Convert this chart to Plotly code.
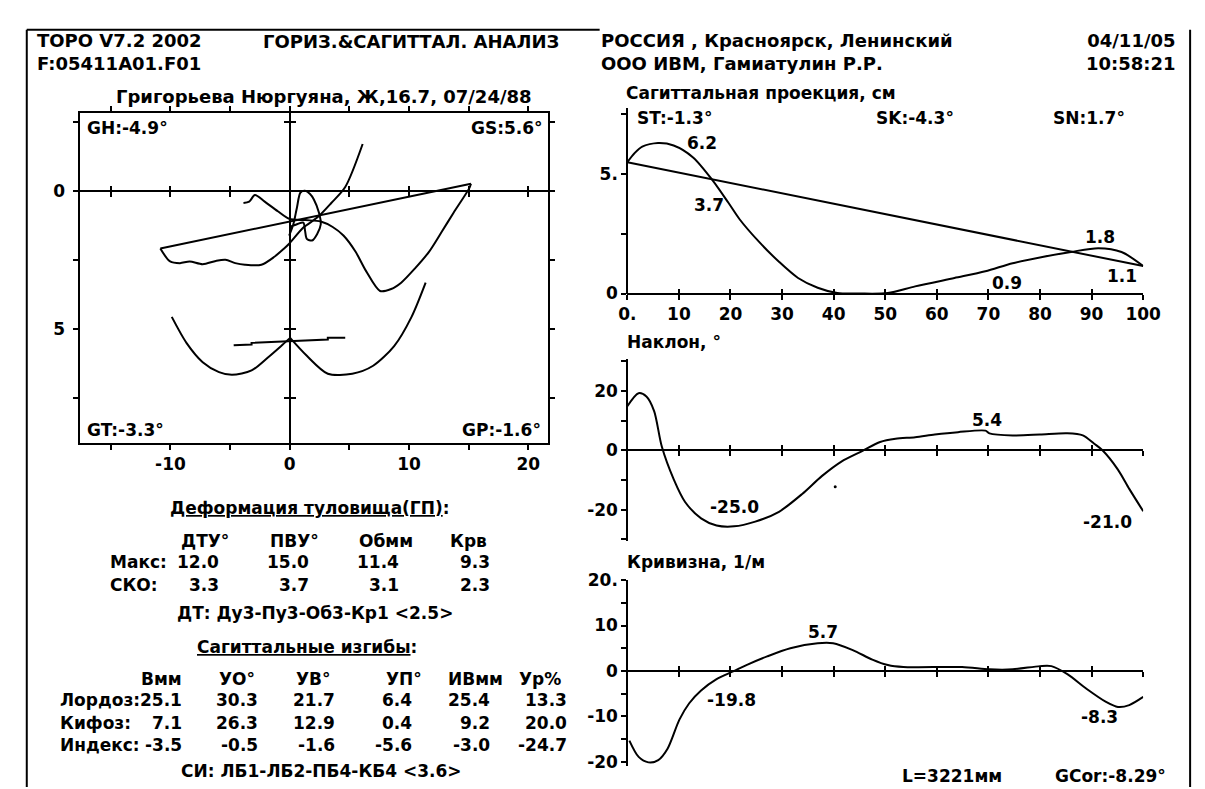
import plotly.graph_objects as go

FONT = "DejaVu Sans"
W, H = 1205, 789
BLK = "black"

# ---------------- data: horizontal projection (left chart) ----------------
hp_line_x = [-10.85, 15.19]
hp_line_y = [2.08, -0.27]

hp_wave_x = [-10.85, -10.03, -9.2, -8.39, -7.3, -6.2, -5.39, -4.57, -3.75, -2.38, -1.29, -0.47, -0.05, 1.14, 2.30, 3.48, 4.65, 6.11]
hp_wave_y = [2.08, 2.55, 2.61, 2.55, 2.65, 2.53, 2.49, 2.61, 2.67, 2.67, 2.38, 2.08, 1.91, 1.32, 0.96, 0.43, -0.15, -1.71]

hp_curve_x = [-3.88, -3.4, -2.92, -2.1, -1.0, -0.05, 1.3, 2.6, 3.6, 4.5, 5.52, 6.4, 7.57, 8.5, 9.34, 10.5, 11.67, 12.7, 13.72, 15.04, 15.19]
hp_curve_y = [0.43, 0.38, 0.14, 0.38, 0.73, 1.0, 1.05, 1.1, 1.3, 1.61, 2.2, 2.9, 3.62, 3.55, 3.32, 2.8, 2.2, 1.5, 0.79, -0.1, -0.27]

hp_loop_x = [-0.05, 0.3, 0.6, 0.9, 1.28, 1.7, 2.02, 2.45, 2.6, 2.3, 1.87, 1.43, 1.28, 1.14, 0.6, 0.0]
hp_loop_y = [1.61, 1.2, 0.6, 0.05, -0.01, 0.1, 0.3, 0.78, 1.2, 1.55, 1.79, 1.73, 1.43, 1.14, 1.2, 1.3]

hp_pelvis_l_x = [-9.89, -8.66, -7.3, -5.93, -4.84, -3.2, -1.83, -0.74, 0.03]
hp_pelvis_l_y = [4.56, 5.5, 6.2, 6.56, 6.66, 6.5, 6.03, 5.62, 5.32]
hp_pelvis_r_x = [0.03, 1.43, 3.19, 5.24, 6.99, 8.75, 10.21, 11.39]
hp_pelvis_r_y = [5.32, 5.97, 6.62, 6.62, 6.33, 5.62, 4.56, 3.32]

hp_bar_x = [-4.7, -3.2, -3.2, 3.19, 3.19, 4.65]
hp_bar_y = [5.59, 5.56, 5.5, 5.38, 5.32, 5.32]

# ---------------- data: sagittal projection ----------------
sp_x = [0, 1.5, 2.9, 5.95, 8.98, 12.75, 16.5, 19.6, 21.8, 25.6, 29.4, 33.1, 36.9, 40.7, 45, 50.5, 55.8, 63.4, 69.4, 74.7, 80.7, 86, 91.3, 95.8, 100]
sp_y = [5.5, 5.9, 6.15, 6.3, 6.2, 5.7, 4.75, 3.8, 3.1, 2.15, 1.33, 0.65, 0.24, 0.02, 0.0, 0.02, 0.3, 0.65, 0.93, 1.27, 1.54, 1.74, 1.9, 1.74, 1.15]
sp_line_x = [0, 100]
sp_line_y = [5.5, 1.15]

# ---------------- data: inclination (Наклон) ----------------
inc_x = [0, 2.18, 3.7, 5.2, 6.7, 9.0, 11.2, 14.3, 17.3, 20.7, 24.8, 29.4, 33.9, 37.7, 41.5, 45.6, 49, 52, 55.8, 59.6, 64.1, 69.4, 70.2, 74.7, 80, 85.3, 88.3, 90.5, 92.1, 95.1, 97.3, 100]
inc_y = [14.8, 19.2, 18.1, 13.2, 1.15, -9.8, -17.4, -22.9, -25.3, -25.6, -24.0, -20.7, -14.7, -8.7, -3.8, -0.2, 2.8, 3.9, 4.4, 5.3, 6.1, 6.6, 5.7, 5.0, 5.3, 5.7, 5.0, 2.2, 0.0, -6.5, -13.0, -20.5]
inc_dot_x = [40.3]
inc_dot_y = [-12.3]

# ---------------- data: curvature (Кривизна) ----------------
cur_x = [0.4, 2.2, 4.1, 6.0, 7.8, 10.1, 12, 14.3, 17.3, 20.5, 23.3, 27.1, 31.6, 36.9, 39.9, 43.7, 47.5, 50.5, 53.5, 64.9, 70.2, 74.7, 80, 82.2, 85.3, 89, 92.8, 95.1, 97.3, 100]
cur_y = [-15.3, -18.9, -20.1, -19.6, -17.1, -10.7, -7.1, -4.3, -1.8, -0.1, 1.4, 3.2, 5.0, 6.1, 6.1, 4.6, 2.5, 1.3, 0.86, 0.86, 0.36, 0.36, 1.07, 1.07, -0.7, -3.9, -6.8, -7.9, -7.5, -5.7]

# ---------------- tables ----------------
deform_title = "Деформация туловища(ГП)"
deform_cols = ["ДТУ°", "ПВУ°", "Обмм", "Крв"]
deform_rows = ["Макс:", "СКО:"]
deform_max = [12.0, 15.0, 11.4, 9.3]
deform_sko = [3.3, 3.7, 3.1, 2.3]
deform_type = "ДТ: Ду3-Пу3-Об3-Кр1 <2.5>"

sag_title = "Сагиттальные изгибы"
sag_cols = ["Вмм", "УО°", "УВ°", "УП°", "ИВмм", "Ур%"]
sag_rows = ["Лордоз:", "Кифоз:", "Индекс:"]
sag_lordoz = [25.1, 30.3, 21.7, 6.4, 25.4, 13.3]
sag_kifoz = [7.1, 26.3, 12.9, 0.4, 9.2, 20.0]
sag_index = [-3.5, -0.5, -1.6, -5.6, -3.0, -24.7]
sag_type = "СИ: ЛБ1-ЛБ2-ПБ4-КБ4 <3.6>"

# tick labels
hp_xticks = [-15, -10, -5, 0, 5, 10, 15, 20]
hp_xtext = ["", "-10", "", "0", "", "10", "", "20"]
hp_yticks = [-2.5, 0, 2.5, 5, 7.5]
hp_ytext = ["", "0", "", "5", ""]
r_xticks = [0, 10, 20, 30, 40, 50, 60, 70, 80, 90, 100]
r_xtext = ["0.", "10", "20", "30", "40", "50", "60", "70", "80", "90", "100"]
sp_yticks = [0, 2.5, 5, 7.5]
sp_ytext = ["0", "", "5.", ""]
inc_yticks = [-30, -20, -10, 0, 10, 20, 30]
inc_ytext = ["", "-20", "", "0", "", "20", ""]
cur_yticks = [-20, -15, -10, -5, 0, 5, 10, 15, 20]
cur_ytext = ["-20", "", "-10", "", "0", "", "10", "", "20."]


def px(x):
    return x / W


def py(y):
    return 1 - y / H


fig = go.Figure()
LINE = dict(color=BLK, width=2)
SPL = dict(color=BLK, width=2, shape="spline", smoothing=0.8)


def add(x, y, xa, ya, line):
    fig.add_trace(go.Scatter(x=x, y=y, mode="lines", line=line, xaxis=xa, yaxis=ya,
                             showlegend=False, hoverinfo="skip"))


add(hp_line_x, hp_line_y, "x", "y", LINE)
add(hp_wave_x, hp_wave_y, "x", "y", SPL)
add(hp_curve_x, hp_curve_y, "x", "y", SPL)
add(hp_loop_x, hp_loop_y, "x", "y", SPL)
add(hp_pelvis_l_x, hp_pelvis_l_y, "x", "y", SPL)
add(hp_pelvis_r_x, hp_pelvis_r_y, "x", "y", SPL)
add(hp_bar_x, hp_bar_y, "x", "y", LINE)
for xa, ya in [("x2", "y2"), ("x3", "y3"), ("x5", "y4"), ("x7", "y6"), ("x9", "y8")]:
    fig.add_trace(go.Scatter(x=[], y=[], xaxis=xa, yaxis=ya, showlegend=False, hoverinfo="skip"))

add(sp_x, sp_y, "x4", "y4", SPL)
add(sp_line_x, sp_line_y, "x4", "y4", LINE)
add(inc_x, inc_y, "x6", "y6", SPL)
fig.add_trace(go.Scatter(x=inc_dot_x, y=inc_dot_y, mode="markers", marker=dict(color=BLK, size=3),
                         xaxis="x6", yaxis="y6", showlegend=False, hoverinfo="skip"))
add(cur_x, cur_y, "x8", "y8", SPL)

TF = dict(family=FONT, size=17, color=BLK, weight=700)
base = dict(showgrid=False, zeroline=False, tickcolor=BLK, tickwidth=2, ticklen=5,
            linecolor=BLK, linewidth=2, tickfont=TF)

LX = [0.0531, 0.4509]
LY = [0.4474, 0.8767]
LXR = [-17.62, 21.66]
LYR = [9.13, -2.84]
RX = [624.3 / W, 1152 / W]
x0_left = 0.2316
y0_left = py(177.7)

lay = dict(
    xaxis=dict(base, domain=LX, range=LXR, anchor="y", tickvals=hp_xticks, ticktext=hp_xtext,
               ticks="outside", showline=True, mirror="ticks", ticklabelstandoff=0),
    yaxis=dict(base, domain=LY, range=LYR, anchor="x", tickvals=hp_yticks, ticktext=hp_ytext,
               ticks="outside", showline=True, mirror="ticks", ticklabelstandoff=4),
    xaxis2=dict(base, overlaying="x", anchor="free", position=y0_left, range=LXR, tickvals=hp_xticks,
                ticks="outside", showticklabels=False, showline=True),
    xaxis3=dict(base, overlaying="x", anchor="free", position=y0_left, range=LXR, tickvals=hp_xticks,
                ticks="inside", showticklabels=False, showline=False),
    yaxis2=dict(base, overlaying="y", anchor="free", position=x0_left, range=LYR, tickvals=hp_yticks,
                ticks="outside", showticklabels=False, showline=True),
    yaxis3=dict(base, overlaying="y", anchor="free", position=x0_left, range=LYR, tickvals=hp_yticks,
                ticks="inside", showticklabels=False, showline=False),
    xaxis4=dict(base, domain=RX, range=[0, 100], anchor="free", position=py(282.7), tickvals=r_xticks,
                ticktext=r_xtext, ticks="outside", showline=True, ticklabelstandoff=0),
    xaxis5=dict(base, overlaying="x4", anchor="free", position=py(282.7), range=[0, 100], tickvals=r_xticks,
                ticks="inside", showticklabels=False, showline=False),
    yaxis4=dict(base, domain=[py(282.7), py(92.8)], range=[0, 7.75], anchor="free", position=RX[0],
                tickvals=sp_yticks, ticktext=sp_ytext, ticks="outside", showline=True),
    xaxis6=dict(base, domain=RX, range=[0, 100], anchor="free", position=py(443.5), tickvals=r_xticks,
                ticks="outside", showticklabels=False, showline=True),
    xaxis7=dict(base, overlaying="x6", anchor="free", position=py(443.5), range=[0, 100], tickvals=r_xticks,
                ticks="inside", showticklabels=False, showline=False),
    yaxis6=dict(base, domain=[py(536.8), py(350.2)], range=[-30.6, 30.6], anchor="free", position=RX[0],
                tickvals=inc_yticks, ticktext=inc_ytext, ticks="outside", showline=True),
    xaxis8=dict(base, domain=RX, range=[0, 100], anchor="free", position=py(670), tickvals=r_xticks,
                ticks="outside", showticklabels=False, showline=True),
    xaxis9=dict(base, overlaying="x8", anchor="free", position=py(670), range=[0, 100], tickvals=r_xticks,
                ticks="inside", showticklabels=False, showline=False),
    yaxis8=dict(base, domain=[py(767), py(576.2)], range=[-20.8, 20.1], anchor="free", position=RX[0],
                tickvals=cur_yticks, ticktext=cur_ytext, ticks="outside", showline=True),
)

ann = []


def txt(s, x, y, anchor="left", size=17):
    ann.append(dict(text=s, x=px(x), y=py(y), xref="paper", yref="paper", xanchor=anchor,
                    yanchor="middle", showarrow=False, align=anchor,
                    font=dict(family=FONT, size=size, color=BLK, weight=700)))


def esc(s):
    return s.replace("<", "&lt;").replace(">", "&gt;")


# header (two-line blocks)
txt("TOPO V7.2 2002<br>F:05411A01.F01", 18, 34.5, "left", 18)
txt("ГОРИЗ.&amp;САГИТТАЛ. АНАЛИЗ", 556, 24, "right", 18)
txt("РОССИЯ , Красноярск, Ленинский<br>ООО ИВМ, Гамиатулин Р.Р.", 595, 34.5, "left", 18)
txt("04/11/05<br>10:58:21", 1188, 34.5, "right", 18)
txt("Григорьева Нюргуяна, Ж,16.7, 07/24/88", 314, 81, "center", 18)

txt("GH:-4.9°", 70, 113)
txt("GS:5.6°", 540, 113, "right")
txt("GT:-3.3°", 70, 423)
txt("GP:-1.6°", 538, 423, "right")

txt("Сагиттальная проекция, см", 621, 77)
txt("ST:-1.3°", 632, 103)
txt("SK:-4.3°", 877, 103)
txt("SN:1.7°", 1058, 103)
txt("6.2", 701, 128, "center")
txt("3.7", 708, 192, "center")
txt("1.8", 1108, 225, "center")
txt("0.9", 1013, 272, "center")
txt("1.1", 1130, 265, "center")

txt("Наклон, °", 622, 332)
txt("5.4", 992, 412, "center")
txt("-25.0", 734, 502, "center")
txt("-21.0", 1116, 517, "center")

txt("Кривизна, 1/м", 622, 558)
txt("5.7", 824, 630, "center")
txt("-19.8", 731, 700, "center")
txt("-8.3", 1107, 717, "center")
txt("L=3221мм", 956, 778, "center")
txt("GCor:-8.29°", 1119, 778, "center")

txt("<u>" + deform_title + "</u>:", 300, 503, "center")
deform_hdr_x = [192, 284, 377, 462]
deform_val_x = [209, 301, 393, 486]
for c, hx in zip(deform_cols, deform_hdr_x):
    txt(c, hx, 537, "center")
for r, (lab, vals) in enumerate(zip(deform_rows, [deform_max, deform_sko])):
    yy = [558, 582][r]
    txt(lab, 93, yy)
    for v, vx in zip(vals, deform_val_x):
        txt(f"{v:.1f}", vx, yy, "right")
txt(esc(deform_type), 305, 610, "center")

txt("<u>" + sag_title + "</u>:", 297, 645, "center")
sag_hdr_x = [148, 225, 303, 396, 469, 535]
sag_val_x = [170.5, 249, 327, 406, 486, 565]
for c, hx in zip(sag_cols, sag_hdr_x):
    txt(c, hx, 678, "center")
for r, (lab, vals) in enumerate(zip(sag_rows, [sag_lordoz, sag_kifoz, sag_index])):
    yy = [700, 723, 746][r]
    txt(lab, 42, yy)
    for v, vx in zip(vals, sag_val_x):
        txt(f"{v:.1f}", vx, yy, "right")
txt(esc(sag_type), 311, 773, "center")

shapes = [
    dict(type="line", xref="paper", yref="paper", x0=px(10), x1=px(10), y0=py(12), y1=py(789),
         line=dict(color=BLK, width=2)),
    dict(type="line", xref="paper", yref="paper", x0=px(10), x1=px(596), y0=py(12), y1=py(12),
         line=dict(color=BLK, width=2)),
    dict(type="line", xref="paper", yref="paper", x0=px(1200), x1=px(1200), y0=py(12), y1=py(789),
         line=dict(color=BLK, width=2)),
]

fig.update_layout(
    width=W, height=H, autosize=False,
    margin=dict(l=0, r=0, t=0, b=0),
    paper_bgcolor="white", plot_bgcolor="white",
    annotations=ann, shapes=shapes, showlegend=False,
    font=dict(family=FONT, color=BLK),
    **lay,
)

fig.write_html("out.html")
